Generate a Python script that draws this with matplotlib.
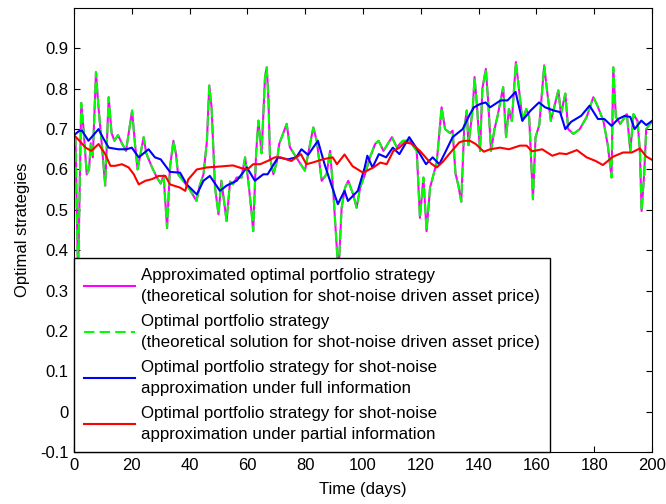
import matplotlib
matplotlib.use("Agg")
import matplotlib.pyplot as plt
from matplotlib.lines import Line2D

plt.rcParams['font.family'] = ['Liberation Sans', 'DejaVu Sans']

# Spiky series (theoretical solution) – same values for the approximated and optimal strategy
spiky_days = [0, 0.5, 1.4, 2.5, 3.3, 4.4, 5.2, 5.8, 6.5, 7.6, 8.4, 9.4, 10.8, 12.0, 13.0,
              14.0, 15.2, 16.7, 18.0, 20.1, 21.0, 22.0, 24.1, 25.0, 27.0, 28.7, 30.0, 31.0,
              32.2, 33.2, 34.4, 35.3, 36.0, 37.8, 39.6, 41.0, 42.4, 43.5, 44.8, 46.0, 46.8,
              47.6, 48.8, 50.0, 51.0, 52.8, 54.0, 55.0, 56.3, 58.0, 59.2, 60.3, 61.5, 62.0,
              63.0, 63.8, 64.9, 66.1, 66.7, 67.3, 67.8, 69.0, 70.2, 71.0, 73.6, 74.7, 76.9,
              79.9, 82.8, 84.0, 85.7, 87.4, 88.6, 89.7, 91.5, 92.6, 93.8, 94.9, 96.6, 97.8,
              99.0, 100.7, 102.4, 104.2, 105.4, 107.1, 110.0, 111.7, 113.8, 116.1, 118.6,
              119.7, 120.9, 122.0, 123.2, 125.5, 127.2, 128.4, 130.1, 131.0, 132.0, 133.0,
              134.0, 135.0, 135.9, 136.5, 138.0, 138.6, 139.3, 140.5, 141.3, 142.5, 143.3,
              144.3, 145.5, 146.5, 148.5, 149.5, 150.5, 151.5, 152.9, 153.8, 155.2, 156.5,
              157.5, 158.8, 159.7, 161.0, 162.7, 163.6, 165.0, 166.0, 167.6, 168.5, 170.0,
              171.0, 172.8, 175.0, 177.4, 179.7, 181.0, 183.2, 184.7, 186.0, 186.6, 187.5,
              189.0, 191.3, 192.5, 193.6, 195.0, 195.8, 196.4, 197.3, 198.0, 200.0]
spiky_vals = [0.68, 0.68, 0.33, 0.765, 0.70, 0.588, 0.60, 0.665, 0.63, 0.841, 0.76, 0.68,
              0.56, 0.779, 0.69, 0.671, 0.685, 0.663, 0.646, 0.746, 0.671, 0.60, 0.68, 0.64,
              0.605, 0.58, 0.565, 0.585, 0.455, 0.605, 0.671, 0.638, 0.588, 0.572, 0.555,
              0.539, 0.522, 0.56, 0.588, 0.671, 0.808, 0.754, 0.555, 0.489, 0.572, 0.472,
              0.57, 0.563, 0.58, 0.58, 0.63, 0.572, 0.489, 0.447, 0.638, 0.721, 0.64, 0.83,
              0.853, 0.77, 0.63, 0.588, 0.62, 0.663, 0.713, 0.655, 0.63, 0.597, 0.704, 0.671,
              0.572, 0.588, 0.646, 0.547, 0.34, 0.505, 0.555, 0.572, 0.538, 0.505, 0.555,
              0.588, 0.63, 0.663, 0.671, 0.646, 0.68, 0.655, 0.671, 0.671, 0.646, 0.48, 0.58,
              0.447, 0.555, 0.617, 0.754, 0.70, 0.69, 0.696, 0.59, 0.56, 0.52, 0.70, 0.746,
              0.66, 0.754, 0.829, 0.77, 0.646, 0.80, 0.849, 0.77, 0.646, 0.70, 0.73, 0.804,
              0.68, 0.75, 0.72, 0.866, 0.81, 0.72, 0.75, 0.73, 0.526, 0.68, 0.71, 0.858, 0.80,
              0.72, 0.75, 0.796, 0.737, 0.788, 0.70, 0.688, 0.70, 0.73, 0.779, 0.76, 0.72,
              0.66, 0.58, 0.853, 0.73, 0.713, 0.737, 0.646, 0.737, 0.72, 0.646, 0.497, 0.59,
              0.70, 0.72]

# Shot-noise approximation under full information
full_days = [0, 1.7, 2.8, 5.0, 8.5, 10.0, 12.0, 15.3, 18.2, 20.0, 22.4, 25.8, 28.0, 30.0,
             33.2, 36.7, 39.0, 42.5, 44.8, 47.0, 50.5, 52.8, 56.3, 59.8, 62.6, 65.5, 67.0,
             70.6, 74.0, 76.9, 78.7, 81.0, 84.4, 86.7, 89.0, 91.3, 93.6, 94.8, 98.2, 100.6,
             101.5, 103.3, 105.5, 108.0, 110.3, 112.6, 116.0, 118.4, 121.8, 124.1, 126.4,
             128.7, 131.0, 132.4, 134.5, 137.0, 138.4, 140.5, 142.4, 144.0, 147.6, 150.0,
             152.8, 155.1, 158.0, 160.9, 163.0, 166.0, 168.2, 170.0, 172.0, 175.5, 178.4,
             181.3, 183.5, 186.0, 188.3, 190.6, 192.5, 194.0, 196.3, 198.0, 200.0]
full_vals = [0.685, 0.695, 0.696, 0.671, 0.70, 0.679, 0.654, 0.65, 0.65, 0.654, 0.63, 0.65,
             0.63, 0.625, 0.594, 0.592, 0.563, 0.538, 0.572, 0.584, 0.547, 0.560, 0.572,
             0.605, 0.572, 0.588, 0.588, 0.63, 0.625, 0.63, 0.65, 0.636, 0.671, 0.613, 0.563,
             0.514, 0.547, 0.522, 0.547, 0.605, 0.634, 0.605, 0.638, 0.63, 0.654, 0.638,
             0.68, 0.654, 0.613, 0.63, 0.613, 0.646, 0.68, 0.688, 0.70, 0.737, 0.754, 0.762,
             0.766, 0.754, 0.771, 0.771, 0.792, 0.721, 0.746, 0.766, 0.754, 0.746, 0.742,
             0.70, 0.718, 0.733, 0.758, 0.725, 0.725, 0.708, 0.725, 0.733, 0.73, 0.70, 0.721,
             0.71, 0.72]

# Shot-noise approximation under partial information
partial_days = [0, 2.0, 4.0, 6.0, 8.5, 10.8, 12.6, 14.3, 16.6, 18.9, 20.7, 22.4, 24.7, 27.0,
                29.3, 31.6, 33.2, 36.7, 38.5, 39.5, 42.5, 46.0, 50.0, 55.0, 58.0, 60.0, 62.0,
                64.4, 67.0, 69.5, 71.5, 75.2, 78.5, 80.4, 83.0, 86.0, 89.5, 91.0, 93.6, 96.4,
                100.0, 103.6, 106.0, 108.2, 110.5, 112.6, 114.5, 116.8, 119.7, 123.5, 125.5,
                127.5, 129.8, 133.3, 135.0, 137.0, 139.0, 141.8, 144.0, 147.4, 150.5, 154.3,
                156.6, 158.5, 162.0, 165.5, 168.0, 170.4, 174.0, 177.4, 180.5, 183.0, 186.6,
                190.0, 193.0, 195.8, 198.0, 200.0]
partial_vals = [0.685, 0.67, 0.654, 0.646, 0.663, 0.638, 0.609, 0.609, 0.613, 0.605, 0.588,
                0.563, 0.572, 0.576, 0.584, 0.584, 0.563, 0.555, 0.547, 0.575, 0.60, 0.605,
                0.607, 0.61, 0.603, 0.60, 0.613, 0.613, 0.621, 0.63, 0.63, 0.621, 0.638, 0.613,
                0.618, 0.625, 0.63, 0.613, 0.637, 0.608, 0.592, 0.605, 0.617, 0.613, 0.646,
                0.654, 0.667, 0.664, 0.646, 0.615, 0.605, 0.618, 0.638, 0.667, 0.671, 0.671,
                0.663, 0.644, 0.65, 0.654, 0.65, 0.659, 0.659, 0.645, 0.65, 0.634, 0.64, 0.638,
                0.648, 0.63, 0.621, 0.611, 0.632, 0.642, 0.642, 0.652, 0.632, 0.624]

labels = ["Approximated optimal portfolio strategy\n(theoretical solution for shot-noise driven asset price)",
          "Optimal portfolio strategy\n(theoretical solution for shot-noise driven asset price)",
          "Optimal portfolio strategy for shot-noise\napproximation under full information",
          "Optimal portfolio strategy for shot-noise\napproximation under partial information"]

xticks = list(range(0, 201, 20))
yticks = [-0.1, 0, 0.1, 0.2, 0.3, 0.4, 0.5, 0.6, 0.7, 0.8, 0.9]
ytick_labels = ["-0.1", "0", "0.1", "0.2", "0.3", "0.4", "0.5", "0.6", "0.7", "0.8", "0.9"]

fig = plt.figure(figsize=(6.66, 5.04), dpi=100)
ax = fig.add_axes([74/666, 52/504, 578/666, 444/504])

lw = 1.5
ax.plot(spiky_days, spiky_vals, color=(1, 0, 1), lw=lw)
ax.plot(spiky_days, spiky_vals, color=(0, 1, 0), lw=lw, dashes=(5, 2.5))
ax.plot(full_days, full_vals, color=(0, 0, 1), lw=lw)
ax.plot(partial_days, partial_vals, color=(1, 0, 0), lw=lw)

ax.set_xlim(0, 200)
ax.set_ylim(-0.1, 1.0)
ax.set_xticks(xticks)
ax.set_yticks(yticks)
ax.set_yticklabels(ytick_labels)
ax.tick_params(direction='in', top=True, right=True, length=4.3, width=0.8,
               labelsize=12, pad=4)
for s in ax.spines.values():
    s.set_linewidth(0.8)
ax.set_xlabel("Time (days)", fontsize=12, labelpad=7)
ax.set_ylabel("Optimal strategies", fontsize=12, labelpad=7)

handles = [Line2D([], [], color=(1, 0, 1), lw=lw),
           Line2D([], [], color=(0, 1, 0), lw=lw, dashes=(5, 2.5)),
           Line2D([], [], color=(0, 0, 1), lw=lw),
           Line2D([], [], color=(1, 0, 0), lw=lw)]
leg = ax.legend(handles, labels, loc='lower left', bbox_to_anchor=(0, 0),
                borderaxespad=0, fontsize=12.2, frameon=True, fancybox=False,
                framealpha=1, edgecolor='black', handlelength=3.0,
                handletextpad=0.35, labelspacing=0.63, borderpad=0.6)
for t in leg.get_texts():
    t.set_linespacing(1.45)
leg.get_frame().set_linewidth(1.0)

fig.savefig("out.png", dpi=100)
